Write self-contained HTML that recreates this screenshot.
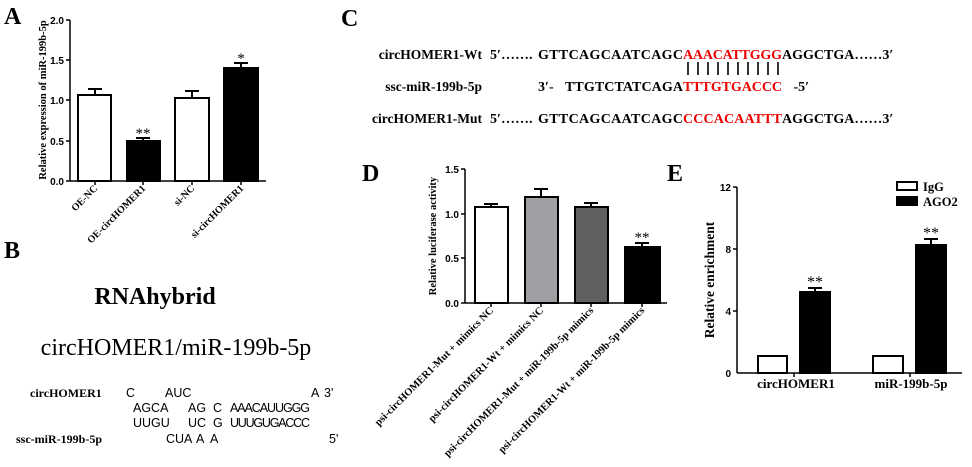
<!DOCTYPE html>
<html><head><style>
html,body{margin:0;padding:0;background:#fff}
svg{display:block}
.s{font-family:"Liberation Serif",serif}
.b{font-weight:bold}
.n{font-family:"Liberation Sans",sans-serif;font-weight:bold}
.q{font-family:"Liberation Sans Narrow","Liberation Sans",sans-serif}
</style></head><body>
<svg width="972" height="467" viewBox="0 0 972 467" xmlns="http://www.w3.org/2000/svg">
<!-- Panel A -->
<text x="4" y="24" class="s b" font-size="24">A</text>
<g stroke="#000" stroke-width="1.5" fill="none">
<line x1="70" y1="20" x2="70" y2="181"/><line x1="70" y1="181" x2="266" y2="181"/>
<line x1="66" y1="20" x2="70" y2="20"/><line x1="66" y1="60" x2="70" y2="60"/><line x1="66" y1="100" x2="70" y2="100"/><line x1="66" y1="141" x2="70" y2="141"/><line x1="66" y1="181" x2="70" y2="181"/>
<line x1="95" y1="181" x2="95" y2="185"/><line x1="143" y1="181" x2="143" y2="185"/><line x1="192" y1="181" x2="192" y2="185"/><line x1="241" y1="181" x2="241" y2="185"/>
</g>
<g class="n" font-size="10" text-anchor="end"><text x="64" y="24">2.0</text><text x="64" y="64">1.5</text><text x="64" y="104">1.0</text><text x="64" y="145">0.5</text><text x="64" y="185">0.0</text></g>
<g stroke="#000" stroke-width="2">
<rect x="78" y="95" width="33" height="86" fill="#fff"/><line x1="95" y1="95" x2="95" y2="89"/><line x1="88" y1="89" x2="102" y2="89"/>
<rect x="127" y="141" width="33" height="40" fill="#000"/><line x1="143" y1="141" x2="143" y2="138"/><line x1="136" y1="138" x2="150" y2="138"/>
<rect x="175" y="98" width="34" height="83" fill="#fff"/><line x1="192" y1="98" x2="192" y2="91"/><line x1="185" y1="91" x2="199" y2="91"/>
<rect x="224" y="68" width="34" height="113" fill="#000"/><line x1="241" y1="68" x2="241" y2="63"/><line x1="234" y1="63" x2="248" y2="63"/>
</g>
<text x="143" y="138" class="s" font-size="15" text-anchor="middle">**</text>
<text x="241" y="63" class="s" font-size="15" text-anchor="middle">*</text>
<text transform="translate(46,100) rotate(-90)" class="s b" font-size="10.5" text-anchor="middle">Relative expression of miR-199b-5p</text>
<g class="s b" font-size="10" text-anchor="end">
<text transform="translate(98,189) rotate(-45)">OE-NC</text>
<text transform="translate(146,189) rotate(-45)">OE-circHOMER1</text>
<text transform="translate(195,189) rotate(-45)">si-NC</text>
<text transform="translate(244,189) rotate(-45)">si-circHOMER1</text>
</g>
<!-- Panel B -->
<text x="4" y="258" class="s b" font-size="24">B</text>
<text x="155" y="304" class="s b" font-size="24" text-anchor="middle">RNAhybrid</text>
<text x="176" y="355" class="s" font-size="24" text-anchor="middle">circHOMER1/miR-199b-5p</text>
<text x="30" y="397" class="s b" font-size="12">circHOMER1</text>
<text x="16" y="443" class="s b" font-size="12">ssc-miR-199b-5p</text>
<g class="q" font-size="12.5">
<text x="126" y="397">C</text><text x="165" y="397">AUC</text><text x="311" y="397">A</text><text x="324" y="397">3'</text>
<text x="133" y="412">AGCA</text><text x="188" y="412">AG</text><text x="213" y="412">C</text><text x="230" y="412" textLength="80">AAACAUUGGG</text>
<text x="133" y="427">UUGU</text><text x="188" y="427">UC</text><text x="213" y="427">G</text><text x="230" y="427" textLength="80">UUUGUGACCC</text>
<text x="166" y="443">CUA</text><text x="196" y="443">A</text><text x="210" y="443">A</text><text x="329" y="443">5'</text>
</g>
<!-- Panel C -->
<text x="341" y="26" class="s b" font-size="24">C</text>
<g class="s b" font-size="13.5" text-anchor="end">
<text x="482" y="59">circHOMER1-Wt</text><text x="482" y="91">ssc-miR-199b-5p</text><text x="482" y="123">circHOMER1-Mut</text>
</g>
<g class="s b" font-size="14">
<text x="490" y="59">5′……. <tspan x="538" textLength="145">GTTCAGCAATCAGC</tspan><tspan fill="#e00" x="683" textLength="99">AAACATTGGG</tspan><tspan x="782">AGGCTGA……3′</tspan></text>
<text x="538" y="91">3′-  <tspan x="565" textLength="118">TTGTCTATCAGA</tspan><tspan fill="#e00" x="683" textLength="99">TTTGTGACCC</tspan><tspan x="790"> -5′</tspan></text>
<text x="490" y="123">5′……. <tspan x="538" textLength="145">GTTCAGCAATCAGC</tspan><tspan fill="#e00" x="683" textLength="99">CCCACAATTT</tspan><tspan x="782">AGGCTGA……3′</tspan></text>
</g>
<g stroke="#000" stroke-width="1.6">
<line x1="688" y1="62" x2="688" y2="75"/><line x1="698" y1="62" x2="698" y2="75"/><line x1="708" y1="62" x2="708" y2="75"/><line x1="718" y1="62" x2="718" y2="75"/><line x1="728" y1="62" x2="728" y2="75"/><line x1="738" y1="62" x2="738" y2="75"/><line x1="748" y1="62" x2="748" y2="75"/><line x1="758" y1="62" x2="758" y2="75"/><line x1="768" y1="62" x2="768" y2="75"/><line x1="778" y1="62" x2="778" y2="75"/>
</g>
<!-- Panel D -->
<text x="362" y="181" class="s b" font-size="24">D</text>
<g stroke="#000" stroke-width="1.5">
<line x1="465" y1="169" x2="465" y2="303"/><line x1="465" y1="303" x2="667" y2="303"/>
<line x1="461" y1="169" x2="465" y2="169"/><line x1="461" y1="214" x2="465" y2="214"/><line x1="461" y1="258" x2="465" y2="258"/><line x1="461" y1="303" x2="465" y2="303"/>
<line x1="491" y1="303" x2="491" y2="307"/><line x1="541" y1="303" x2="541" y2="307"/><line x1="591" y1="303" x2="591" y2="307"/><line x1="642" y1="303" x2="642" y2="307"/>
</g>
<g class="n" font-size="10" text-anchor="end"><text x="459" y="173">1.5</text><text x="459" y="218">1.0</text><text x="459" y="262">0.5</text><text x="459" y="307">0.0</text></g>
<g stroke="#000" stroke-width="2">
<rect x="475" y="207" width="33" height="96" fill="#fff"/><line x1="491" y1="207" x2="491" y2="204"/><line x1="484" y1="204" x2="498" y2="204"/>
<rect x="525" y="197" width="33" height="106" fill="#a0a0a4"/><line x1="541" y1="197" x2="541" y2="189"/><line x1="534" y1="189" x2="548" y2="189"/>
<rect x="575" y="207" width="33" height="96" fill="#606060"/><line x1="591" y1="207" x2="591" y2="203"/><line x1="584" y1="203" x2="598" y2="203"/>
<rect x="625" y="247" width="35" height="56" fill="#000"/><line x1="642" y1="247" x2="642" y2="243"/><line x1="635" y1="243" x2="649" y2="243"/>
</g>
<text x="642" y="242" class="s" font-size="15" text-anchor="middle">**</text>
<text transform="translate(436,236) rotate(-90)" class="s b" font-size="10.5" text-anchor="middle">Relative luciferase activity</text>
<g class="s b" font-size="10.5" text-anchor="end">
<text transform="translate(494,311) rotate(-45)">psi-circHOMER1-Mut + mimics NC</text>
<text transform="translate(544,311) rotate(-45)">psi-circHOMER1-Wt + mimics NC</text>
<text transform="translate(594,311) rotate(-45)">psi-circHOMER1-Mut + miR-199b-5p mimics</text>
<text transform="translate(645,311) rotate(-45)">psi-circHOMER1-Wt + miR-199b-5p mimics</text>
</g>
<!-- Panel E -->
<text x="667" y="181" class="s b" font-size="24">E</text>
<g stroke="#000" stroke-width="1.5">
<line x1="737" y1="187" x2="737" y2="373"/><line x1="737" y1="373" x2="962" y2="373"/>
<line x1="733" y1="187" x2="737" y2="187"/><line x1="733" y1="249" x2="737" y2="249"/><line x1="733" y1="311" x2="737" y2="311"/>
<line x1="794" y1="373" x2="794" y2="377"/><line x1="910" y1="373" x2="910" y2="377"/>
</g>
<g class="n" font-size="10" text-anchor="end"><text x="731" y="191">12</text><text x="731" y="253">8</text><text x="731" y="315">4</text><text x="731" y="377">0</text></g>
<g stroke="#000" stroke-width="2">
<rect x="758" y="356" width="29" height="17" fill="#fff"/>
<rect x="800" y="292" width="30" height="81" fill="#000"/><line x1="815" y1="292" x2="815" y2="288"/><line x1="808" y1="288" x2="822" y2="288"/>
<rect x="873" y="356" width="30" height="17" fill="#fff"/>
<rect x="916" y="245" width="30" height="128" fill="#000"/><line x1="931" y1="245" x2="931" y2="239"/><line x1="924" y1="239" x2="938" y2="239"/>
<rect x="897" y="182" width="20" height="8" fill="#fff"/><rect x="897" y="197" width="20" height="8" fill="#000"/>
</g>
<text x="815" y="287" class="s" font-size="16" text-anchor="middle">**</text>
<text x="931" y="238" class="s" font-size="16" text-anchor="middle">**</text>
<text x="923" y="191" class="s b" font-size="12.5">IgG</text>
<text x="923" y="206" class="s b" font-size="12.5">AGO2</text>
<text transform="translate(714,280) rotate(-90)" class="s b" font-size="13.5" text-anchor="middle">Relative enrichment</text>
<text x="796" y="388" class="s b" font-size="13" text-anchor="middle">circHOMER1</text>
<text x="911" y="388" class="s b" font-size="13" text-anchor="middle">miR-199b-5p</text>
</svg>
</body></html>
